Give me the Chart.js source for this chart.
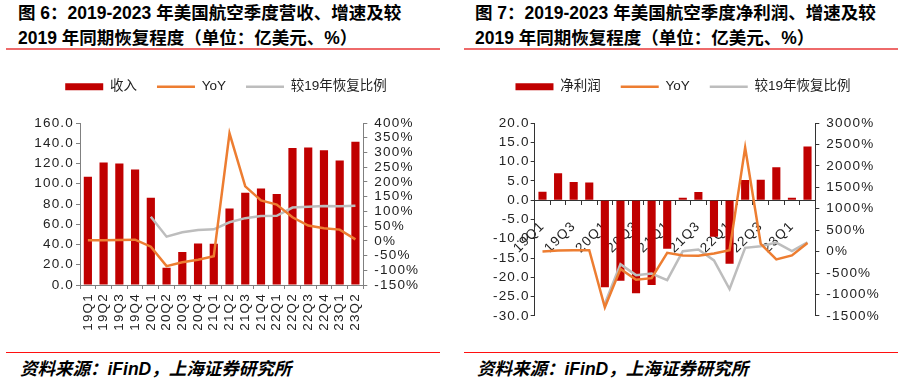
<!DOCTYPE html>
<html><head><meta charset="utf-8">
<script src="https://cdn.jsdelivr.net/npm/chart.js@4.4.0/dist/chart.umd.min.js"></script>
<style>
html,body{margin:0;padding:0;background:#fff;}
#wrap{position:relative;width:904px;height:379px;overflow:hidden;font-family:"Liberation Sans","Noto Sans CJK SC",sans-serif;}
.title{position:absolute;font-weight:bold;font-size:17.5px;line-height:25px;color:#000;white-space:nowrap;}
.hr1{position:absolute;height:2px;background:#ee6a6a;}
.hr2{position:absolute;height:1.5px;background:#ff1010;}
.src{position:absolute;font-style:italic;font-weight:bold;font-size:17.5px;color:#000;white-space:nowrap;}
canvas{position:absolute;}
</style></head>
<body><div id="wrap">
<div class="title" style="left:18px;top:1px">图 6：2019-2023 年美国航空季度营收、增速及较<br>2019 年同期恢复程度（单位：亿美元、%）</div>
<div class="hr1" style="left:6px;width:434px;top:48px"></div>
<div class="title" style="left:475px;top:1px">图 7：2019-2023 年美国航空季度净利润、增速及较<br>2019 年同期恢复程度（单位：亿美元、%）</div>
<div class="hr1" style="left:464px;width:434px;top:48px"></div>
<canvas id="c1" width="452" height="280" style="left:0;top:60px"></canvas>
<canvas id="c2" width="452" height="271" style="left:452px;top:60px"></canvas>
<div class="hr2" style="left:6px;width:434px;top:351.5px"></div>
<div class="hr2" style="left:464px;width:434px;top:351.5px"></div>
<div class="src" style="left:20px;top:355px">资料来源：iFinD，上海证券研究所</div>
<div class="src" style="left:477px;top:355px">资料来源：iFinD，上海证券研究所</div>
</div>
<script>
// ---- data ----
const quarters = ['19Q1','19Q2','19Q3','19Q4','20Q1','20Q2','20Q3','20Q4','21Q1','21Q2','21Q3','21Q4','22Q1','22Q2','22Q3','22Q4','23Q1','23Q2'];
// Figure 6: revenue (亿美元)
const revenue = [106.8,120.9,119.9,114.0,86.1,17.1,32.5,41.1,40.7,75.6,91.0,95.3,90.0,135.3,135.7,133.0,122.9,141.6];
const revenueYoY = [2,2,3,4,-20,-86,-73,-64,-52,365,185,137,123,80,52,43,38,5];
const revenueRecovery = [null,null,null,null,82,14,29,37,39,63,77,84,85,113,116,118,117,119];
// Figure 7: net profit (亿美元)
const profit = [2.2,7.0,4.7,4.6,-22.6,-20.9,-24.1,-22.0,-12.6,0.6,2.1,-9.5,-16.5,5.2,5.3,8.5,0.6,13.9];
const profitYoY = [2,25,33,33,-1300,-404,-657,-619,-28,-90,-97,-44,33,2425,179,-182,-90,202];
const profitRecovery = [null,null,null,null,-1215,-296,-549,-511,-665,10,48,-205,-872,87,125,210,10,217];
// axis tick settings
const leftTicks1 = {min:0,max:160,step:20};
const rightTicks1 = {min:-150,max:400,step:50};
const leftTicks2 = {min:-30,max:20,step:5};
const rightTicks2 = {min:-1500,max:3000,step:500};

const RED='#C00000', ORANGE='#ED7D31', GRAY='#BDBDBD';
const tickFont = {family:'"Liberation Sans", Arial, sans-serif', size:13.5};
const legendFont = {family:'"Liberation Sans","Noto Sans CJK SC", sans-serif', size:13.5};
const TICK_SPACING = '1.2px';

const textTweaks = {
  id:'textTweaks',
  beforeUpdate(chart){ chart.ctx.letterSpacing = TICK_SPACING; },
  beforeDraw(chart){ chart.ctx.letterSpacing = TICK_SPACING; },
  afterInit(chart, args, opts){
    const lg = chart.legend; if(!lg) return;
    const origFit = lg.fit, origDraw = lg.draw;
    lg.fit = function(){
      const ctx = this.ctx, prev = ctx.letterSpacing; ctx.letterSpacing = '0px';
      origFit.call(this); ctx.letterSpacing = prev;
      this.height += opts.extra || 0;
    };
    lg.draw = function(){
      const ctx = this.ctx, prev = ctx.letterSpacing; ctx.letterSpacing = '0px';
      origDraw.apply(this, arguments); ctx.letterSpacing = prev;
    };
  }
};

function legendLabels(chart){
  return chart.data.datasets.map((ds,i)=>({
    text: ds.label,
    fillStyle: ds.type==='bar' ? ds.backgroundColor : ds.borderColor,
    strokeStyle: ds.type==='bar' ? ds.backgroundColor : ds.borderColor,
    lineWidth: ds.type==='bar' ? 0 : 2.5,
    pointStyle: ds.type==='bar' ? 'rect' : 'line',
    fontColor:'#222',
    hidden:false,
    datasetIndex:i
  }));
}

function fixed(w){ return function(s){ s.width = w; }; }

function makeChart(id, cfg){
  return new Chart(document.getElementById(id), {
    data:{
      labels: quarters,
      datasets:[
        {type:'bar', label:cfg.barLabel, data:cfg.bars, backgroundColor:RED, yAxisID:'y', order:3, barPercentage:0.52, categoryPercentage:1},
        {type:'line', label:'YoY', data:cfg.yoy, borderColor:ORANGE, backgroundColor:ORANGE, borderWidth:2.5, pointRadius:0, yAxisID:'y1', order:1, tension:0},
        {type:'line', label:'较19年恢复比例', data:cfg.rec, borderColor:GRAY, backgroundColor:GRAY, borderWidth:2.5, pointRadius:0, yAxisID:'y1', order:2, tension:0}
      ]
    },
    options:{
      responsive:false, animation:false, devicePixelRatio:1,
      layout:{padding:{left:cfg.padLeft||0,right:0,top:0,bottom:0}},
      plugins:{
        tooltip:{enabled:false},
        textTweaks:{extra:cfg.legendExtra},
        legend:{position:'top', labels:{usePointStyle:true, pointStyleWidth:38, boxHeight:7, padding:20, font:legendFont, color:'#222', generateLabels:legendLabels}}
      },
      scales:{
        x:cfg.x,
        y:{position:'left', min:cfg.lt.min, max:cfg.lt.max,
           ticks:{stepSize:cfg.lt.step, autoSkip:false, font:tickFont, color:'#222', padding:cfg.lpad, callback:v=>v.toFixed(1)},
           grid:{drawOnChartArea:false, tickLength:4, color:cfg.axisColor},
           border:{color:cfg.axisColor, width:1},
           afterFit:fixed(cfg.yw)},
        y1:{position:'right', min:cfg.rt.min, max:cfg.rt.max,
           ticks:{stepSize:cfg.rt.step, autoSkip:false, font:tickFont, color:'#222', padding:cfg.rpad, callback:v=>v+'%'},
           grid:{drawOnChartArea:false, tickLength:4, color:cfg.axisColor},
           border:{color:cfg.axisColor, width:1},
           afterFit:fixed(cfg.y1w)}
      }
    },
    plugins:[textTweaks]
  });
}

makeChart('c1', {
  barLabel:'收入', bars:revenue, yoy:revenueYoY, rec:revenueRecovery,
  lt:leftTicks1, rt:rightTicks1, yw:80, y1w:88.7, axisColor:'#808080', legendExtra:19.5, lpad:2, rpad:7,
  x:{position:'bottom', ticks:{font:tickFont, color:'#222', minRotation:90, maxRotation:90, autoSkip:false, padding:4},
     grid:{offset:true, drawOnChartArea:false, tickLength:4, color:'#808080'},
     border:{color:'#808080', width:1},
     afterFit:function(s){ s.height = 55; }}
});

makeChart('c2', {
  barLabel:'净利润', bars:profit, yoy:profitYoY, rec:profitRecovery,
  lt:leftTicks2, rt:rightTicks2, yw:72.7, y1w:88.7, axisColor:'#333', legendExtra:19.5, padLeft:10, lpad:1, rpad:7,
  x:{position:{y:0}, ticks:{font:tickFont, color:'#222', minRotation:45, maxRotation:45, autoSkip:false, padding:14,
        callback:function(v,i){ return i%2===0 ? this.getLabelForValue(v) : ''; }},
     grid:{offset:true, drawOnChartArea:false, tickLength:4, color:'#333'},
     border:{color:'#333', width:1},
     afterFit:function(s){ s.height = 0; }}
});
</script>
</body></html>
